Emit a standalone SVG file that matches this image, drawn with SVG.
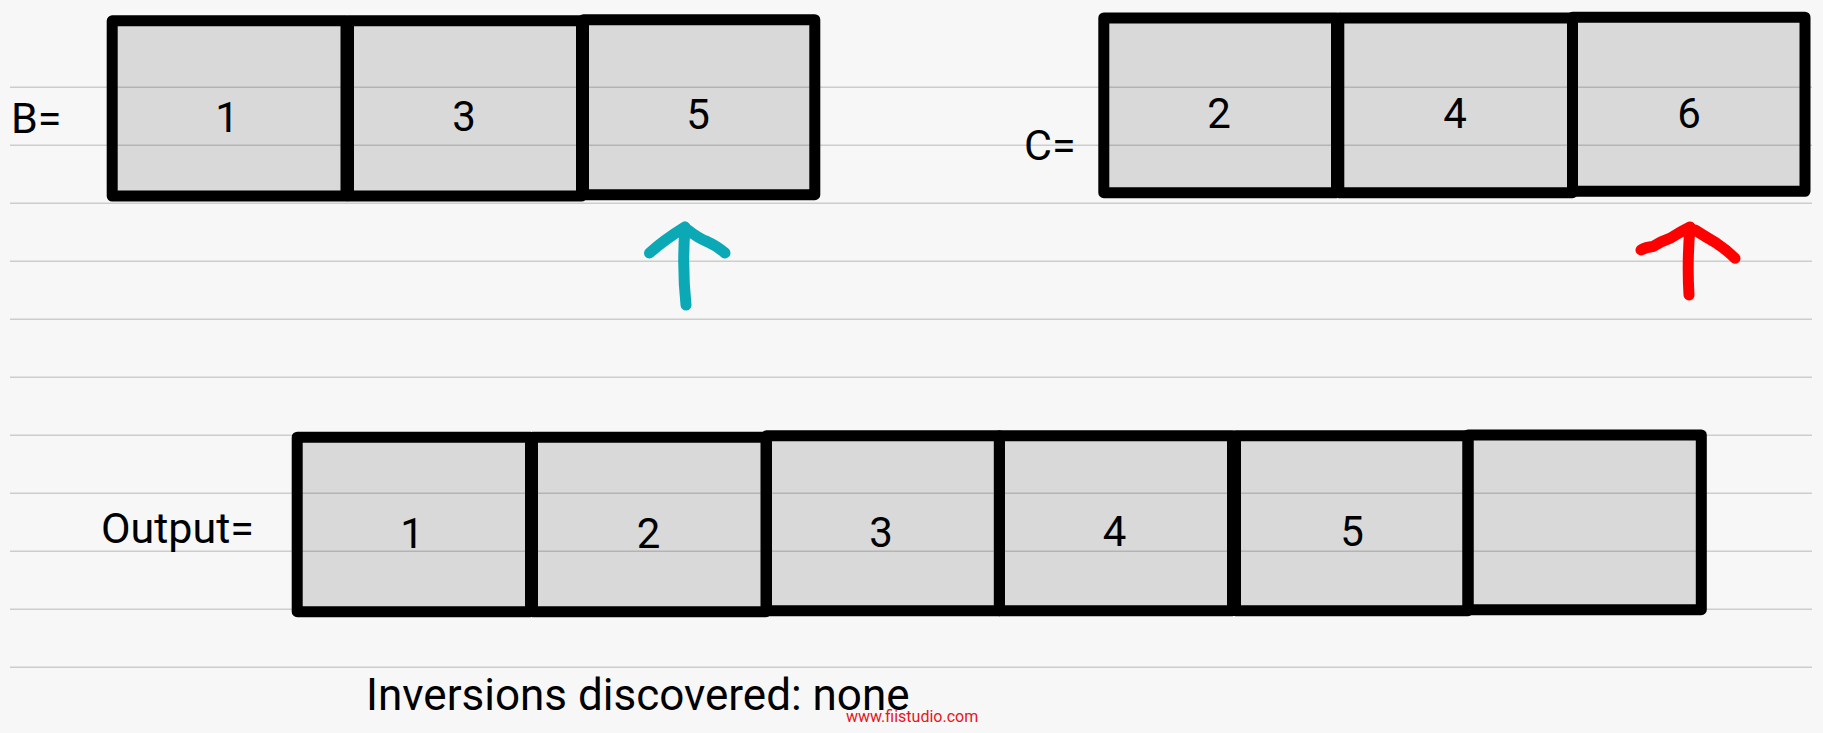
<svg xmlns="http://www.w3.org/2000/svg" width="1823" height="733" viewBox="0 0 1823 733">
<style>
.rule{stroke:#000;stroke-opacity:0.17;stroke-width:1.5}
.cell{fill:#000;fill-opacity:0.122;stroke:#000;stroke-width:11;stroke-linejoin:round}
.num{font-family:Roboto,"Liberation Sans",sans-serif;font-size:42px;fill:#000;text-anchor:middle}
.lbl{font-family:Roboto,"Liberation Sans",sans-serif;font-size:43px;fill:#000}
.arrow{fill:none;stroke-width:11;stroke-linecap:round;stroke-linejoin:round}
</style>
<rect x="0" y="0" width="1823" height="733" fill="#f7f7f7"/>
<g id="rules">
<line class="rule" x1="10" y1="87.3" x2="1812" y2="87.3"/>
<line class="rule" x1="10" y1="145.3" x2="1812" y2="145.3"/>
<line class="rule" x1="10" y1="203.3" x2="1812" y2="203.3"/>
<line class="rule" x1="10" y1="261.3" x2="1812" y2="261.3"/>
<line class="rule" x1="10" y1="319.3" x2="1812" y2="319.3"/>
<line class="rule" x1="10" y1="377.3" x2="1812" y2="377.3"/>
<line class="rule" x1="10" y1="435.3" x2="1812" y2="435.3"/>
<line class="rule" x1="10" y1="493.3" x2="1812" y2="493.3"/>
<line class="rule" x1="10" y1="551.3" x2="1812" y2="551.3"/>
<line class="rule" x1="10" y1="609.3" x2="1812" y2="609.3"/>
<line class="rule" x1="10" y1="667.3" x2="1812" y2="667.3"/>
</g>
<g id="labels">
<text class="lbl" x="11" y="133.3">B=</text>
<text class="lbl" x="1024" y="160">C=</text>
<text class="lbl" x="101" y="542.7">Output=</text>
<text class="lbl" x="366" y="710.3" style="font-size:44px">Inversions discovered: none</text>
<text x="846" y="722.3" style="font-family:Roboto,'Liberation Sans',sans-serif;font-size:16px;fill:#e8141c">www.fiistudio.com</text>
</g>
<g id="B">
<g id="B0"><rect class="cell" x="112.2" y="20.8" width="233.8" height="175.2"/><text class="num" x="227" y="131.5">1</text></g>
<g id="B1"><rect class="cell" x="348.5" y="20.8" width="233" height="175.2"/><text class="num" x="464" y="131">3</text></g>
<g id="B2"><rect class="cell" x="583.5" y="19.7" width="231.3" height="175"/><text class="num" x="698" y="129.3">5</text></g>
</g>
<g id="C">
<g id="C0"><rect class="cell" x="1103.8" y="18" width="232.7" height="174.7"/><text class="num" x="1219" y="127.7">2</text></g>
<g id="C1"><rect class="cell" x="1338.8" y="18" width="233.7" height="174.7"/><text class="num" x="1455" y="127.7">4</text></g>
<g id="C2"><rect class="cell" x="1572.5" y="17.2" width="232.5" height="174.1"/><text class="num" x="1689" y="127.7">6</text></g>
</g>
<g id="Output">
<g id="O0"><rect class="cell" x="297.2" y="437.2" width="233.3" height="174.5"/><text class="num" x="412" y="547.7">1</text></g>
<g id="O1"><rect class="cell" x="532.5" y="437.2" width="233.5" height="174.5"/><text class="num" x="648.5" y="547.5">2</text></g>
<g id="O2"><rect class="cell" x="766.5" y="435.8" width="232.9" height="174.9"/><text class="num" x="881" y="547">3</text></g>
<g id="O3"><rect class="cell" x="999.4" y="435.8" width="233.1" height="174.9"/><text class="num" x="1114.6" y="546">4</text></g>
<g id="O4"><rect class="cell" x="1235.5" y="435.8" width="232.5" height="174.9"/><text class="num" x="1352" y="546">5</text></g>
<g id="O5"><rect class="cell" x="1468" y="435" width="233.3" height="174.7"/></g>
</g>
<g id="connectors">
<path class="arrow" stroke="#0ba8b6" d="M686 305 Q682 268 685 227 M649.5 253 Q664 240 685 227 M688 230 Q698 238 707 241.5 Q717 246 725 253"/>
<path class="arrow" stroke="#ff0000" d="M1689 295 Q1687 262 1690 227 M1641 250 Q1646 247 1653 246.5 Q1662 241 1670 238.3 Q1680 232 1690 227 M1695 230 Q1706 237 1716.7 243.3 Q1727 250 1735 258.3"/>
</g>
</svg>
